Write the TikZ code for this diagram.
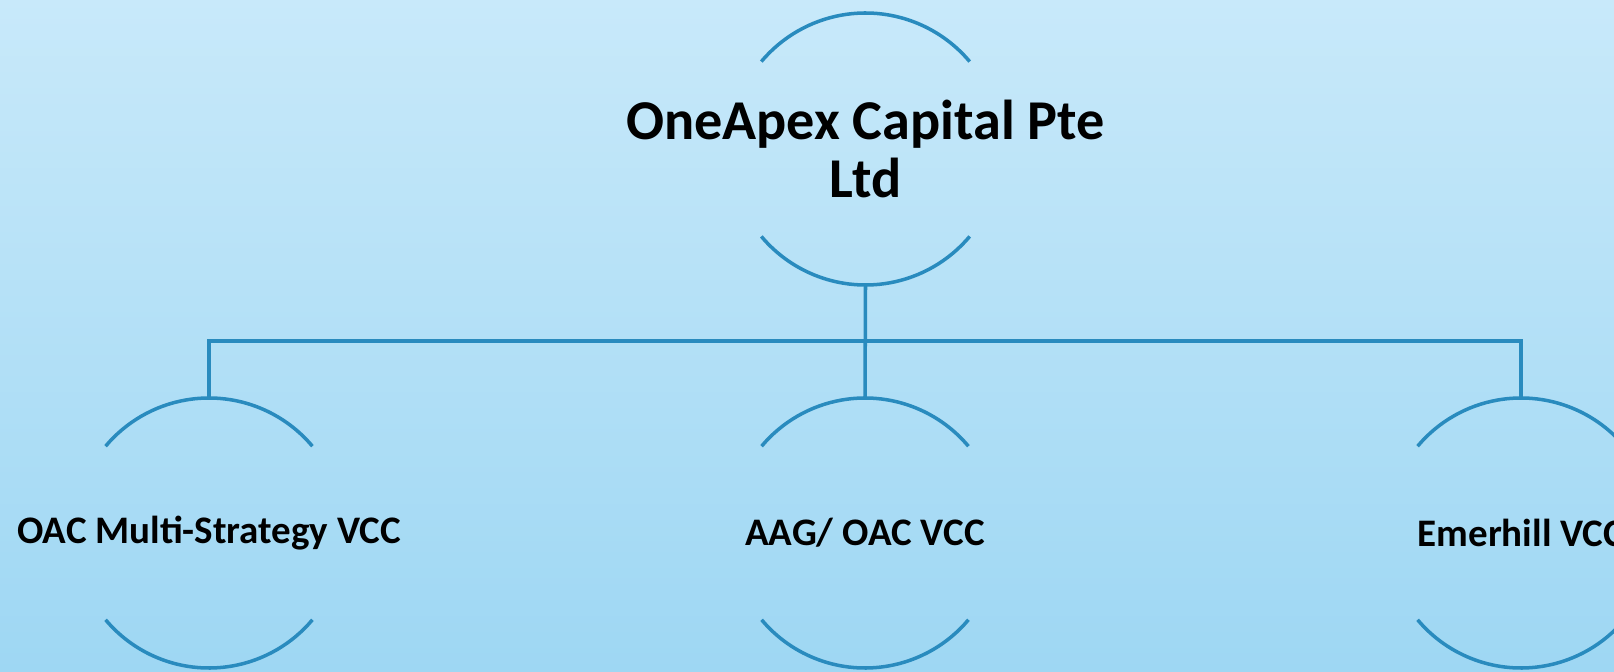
\documentclass[tikz,border=0pt]{standalone}
\usepackage{fontspec}
\setmainfont{Carlito}
\usepackage{tikz}

\definecolor{bgtop}{RGB}{200,233,250}
\definecolor{bgbot}{RGB}{158,215,243}
\definecolor{linkblue}{RGB}{41,139,190}

\begin{document}
\begin{tikzpicture}[line width=2pt, color=linkblue,
  every node/.style={inner sep=0pt, outer sep=0pt, text=black},
  ring/.style={circle, minimum size=#1},
  toptext/.style={font=\fontsize{32}{33.5}\selectfont\bfseries, align=center},
  subtext/.style={font=\fontsize{22.2}{24}\selectfont\bfseries}]
\useasboundingbox (0,0) rectangle (32.28,13.42);
\clip (0,0) rectangle (32.28,13.42);
\shade[top color=bgtop, bottom color=bgbot, draw=none] (0,0) rectangle (32.28,13.42);

\node[ring=5.44cm] (apex) at (17.31,10.44) {};
\node[ring=5.4cm] (multi) at (4.18,2.76) {};
\node[ring=5.4cm] (aag) at (17.30,2.76) {};
\node[ring=5.4cm] (emer) at (30.42,2.76) {};

\node[toptext] (apextext) at (apex) {OneApex Capital Pte\\Ltd};
\node[subtext] (multitext) at (multi) {OAC Multi-Strategy VCC};
\node[subtext] (aagtext) at (aag) {AAG/ OAC VCC};
\node[subtext] (emertext) at (emer) {Emerhill VCC};

\coordinate (bar) at (17.30,6.6);

% arcs round each node
\draw (apex.40) arc[start angle=40, end angle=140, radius=2.72cm];
\draw (apex.220) arc[start angle=220, end angle=320, radius=2.72cm];
\draw (multi.40) arc[start angle=40, end angle=140, radius=2.7cm];
\draw (multi.220) arc[start angle=220, end angle=320, radius=2.7cm];
\draw (aag.40) arc[start angle=40, end angle=140, radius=2.7cm];
\draw (aag.220) arc[start angle=220, end angle=320, radius=2.7cm];
\draw (emer.40) arc[start angle=40, end angle=140, radius=2.7cm];
\draw (emer.220) arc[start angle=220, end angle=320, radius=2.7cm];

% links
\draw (apex.south) -- (aag.north);
\draw (multi.north) -- (multi.north |- bar) -- (emer.north |- bar) -- (emer.north);
\end{tikzpicture}
\end{document}
